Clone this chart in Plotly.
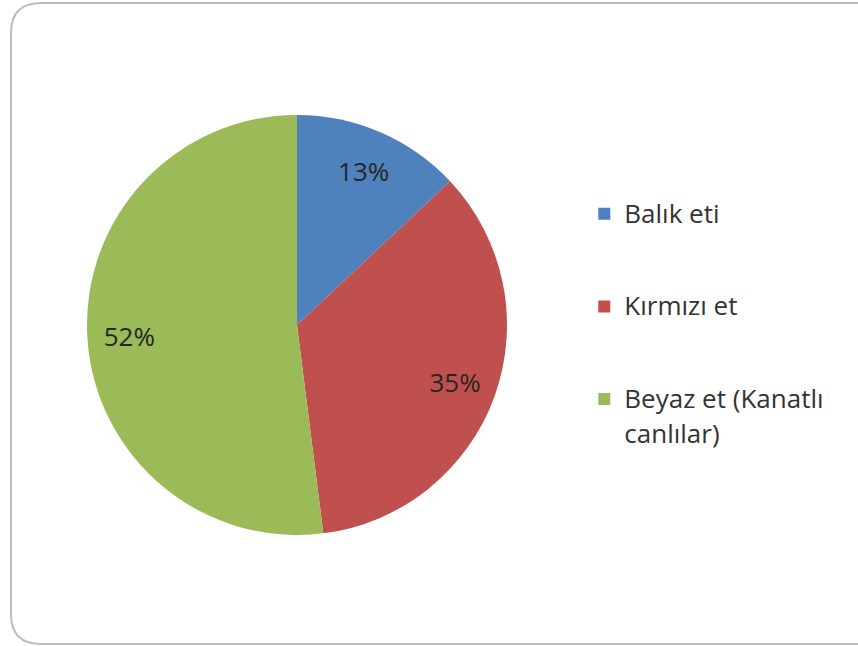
import plotly.graph_objects as go

# Datos
etiquetas = ["Balık eti", "Kırmızı et", "Beyaz et (Kanatlı<br>canlılar)"]
valores = [13, 35, 52]
colores = ["#4F81BD", "#C0504D", "#9BBB59"]

W, H = 858, 646
FUENTE = "Open Sans"
TAM = 26  # tamaño visible del texto de la leyenda


def etiqueta_leyenda(e):
    # texto mas grande que el interlineado base; lineas en blanco para separar
    partes = e.split("<br>")
    lineas = ['<span style="font-size:%dpx">%s</span>' % (TAM, partes[0])]
    # segunda linea un poco mas baja para imitar el interlineado original
    for t in partes[1:]:
        lineas.append('<span style="font-size:%dpx;baseline-shift:-5px">%s</span>' % (TAM, t))
    while len(lineas) < 3 and len(partes) == 1:
        lineas.append(" ")
    return "<br>".join(lineas)


leyenda = [etiqueta_leyenda(e) for e in etiquetas]
dominio = dict(x=[82 / W, 512 / W], y=[1 - 535 / H, 1 - 115 / H])

fig = go.Figure()

# tarta completa (sin texto)
fig.add_trace(go.Pie(
    labels=leyenda, values=valores,
    marker=dict(colors=colores, line=dict(width=0)),
    sort=False, direction="clockwise", rotation=0,
    textinfo="none", hoverinfo="skip",
    domain=dominio,
))

# anillo transparente solo para colocar los porcentajes hacia el borde
fig.add_trace(go.Pie(
    labels=leyenda, values=valores,
    marker=dict(colors=["rgba(0,0,0,0)"] * 3, line=dict(width=0)),
    sort=False, direction="clockwise", rotation=0, hole=0.6,
    texttemplate="%{percent:.0%}",
    textposition="inside",
    insidetextorientation="horizontal",
    textfont=dict(family=FUENTE, size=26, color="#262626"),
    hoverinfo="skip", showlegend=False,
    domain=dominio,
))

fig.update_layout(
    width=W, height=H,
    margin=dict(l=0, r=0, t=0, b=0),
    paper_bgcolor="white",
    showlegend=True,
    legend=dict(
        x=0.681, y=0.7024, xanchor="left", yanchor="top",
        font=dict(family=FUENTE, size=23, color="#333333"),
        valign="top",
        itemwidth=30,
        bgcolor="rgba(0,0,0,0)",
    ),
    uniformtext=dict(minsize=26, mode="show"),
    shapes=[dict(
        type="path", xref="paper", yref="paper",
        path=("M 0.0128,0.949 Q 0.0128,0.9954 0.0478,0.9954 L 1.01,0.9954 "
              "L 1.01,0.0031 L 0.0478,0.0031 Q 0.0128,0.0031 0.0128,0.0495 Z"),
        line=dict(color="#bdbdbd", width=2),
    )],
)

fig.write_html("out.html", config={"displayModeBar": False},
               post_script="document.body.style.margin='0';")
